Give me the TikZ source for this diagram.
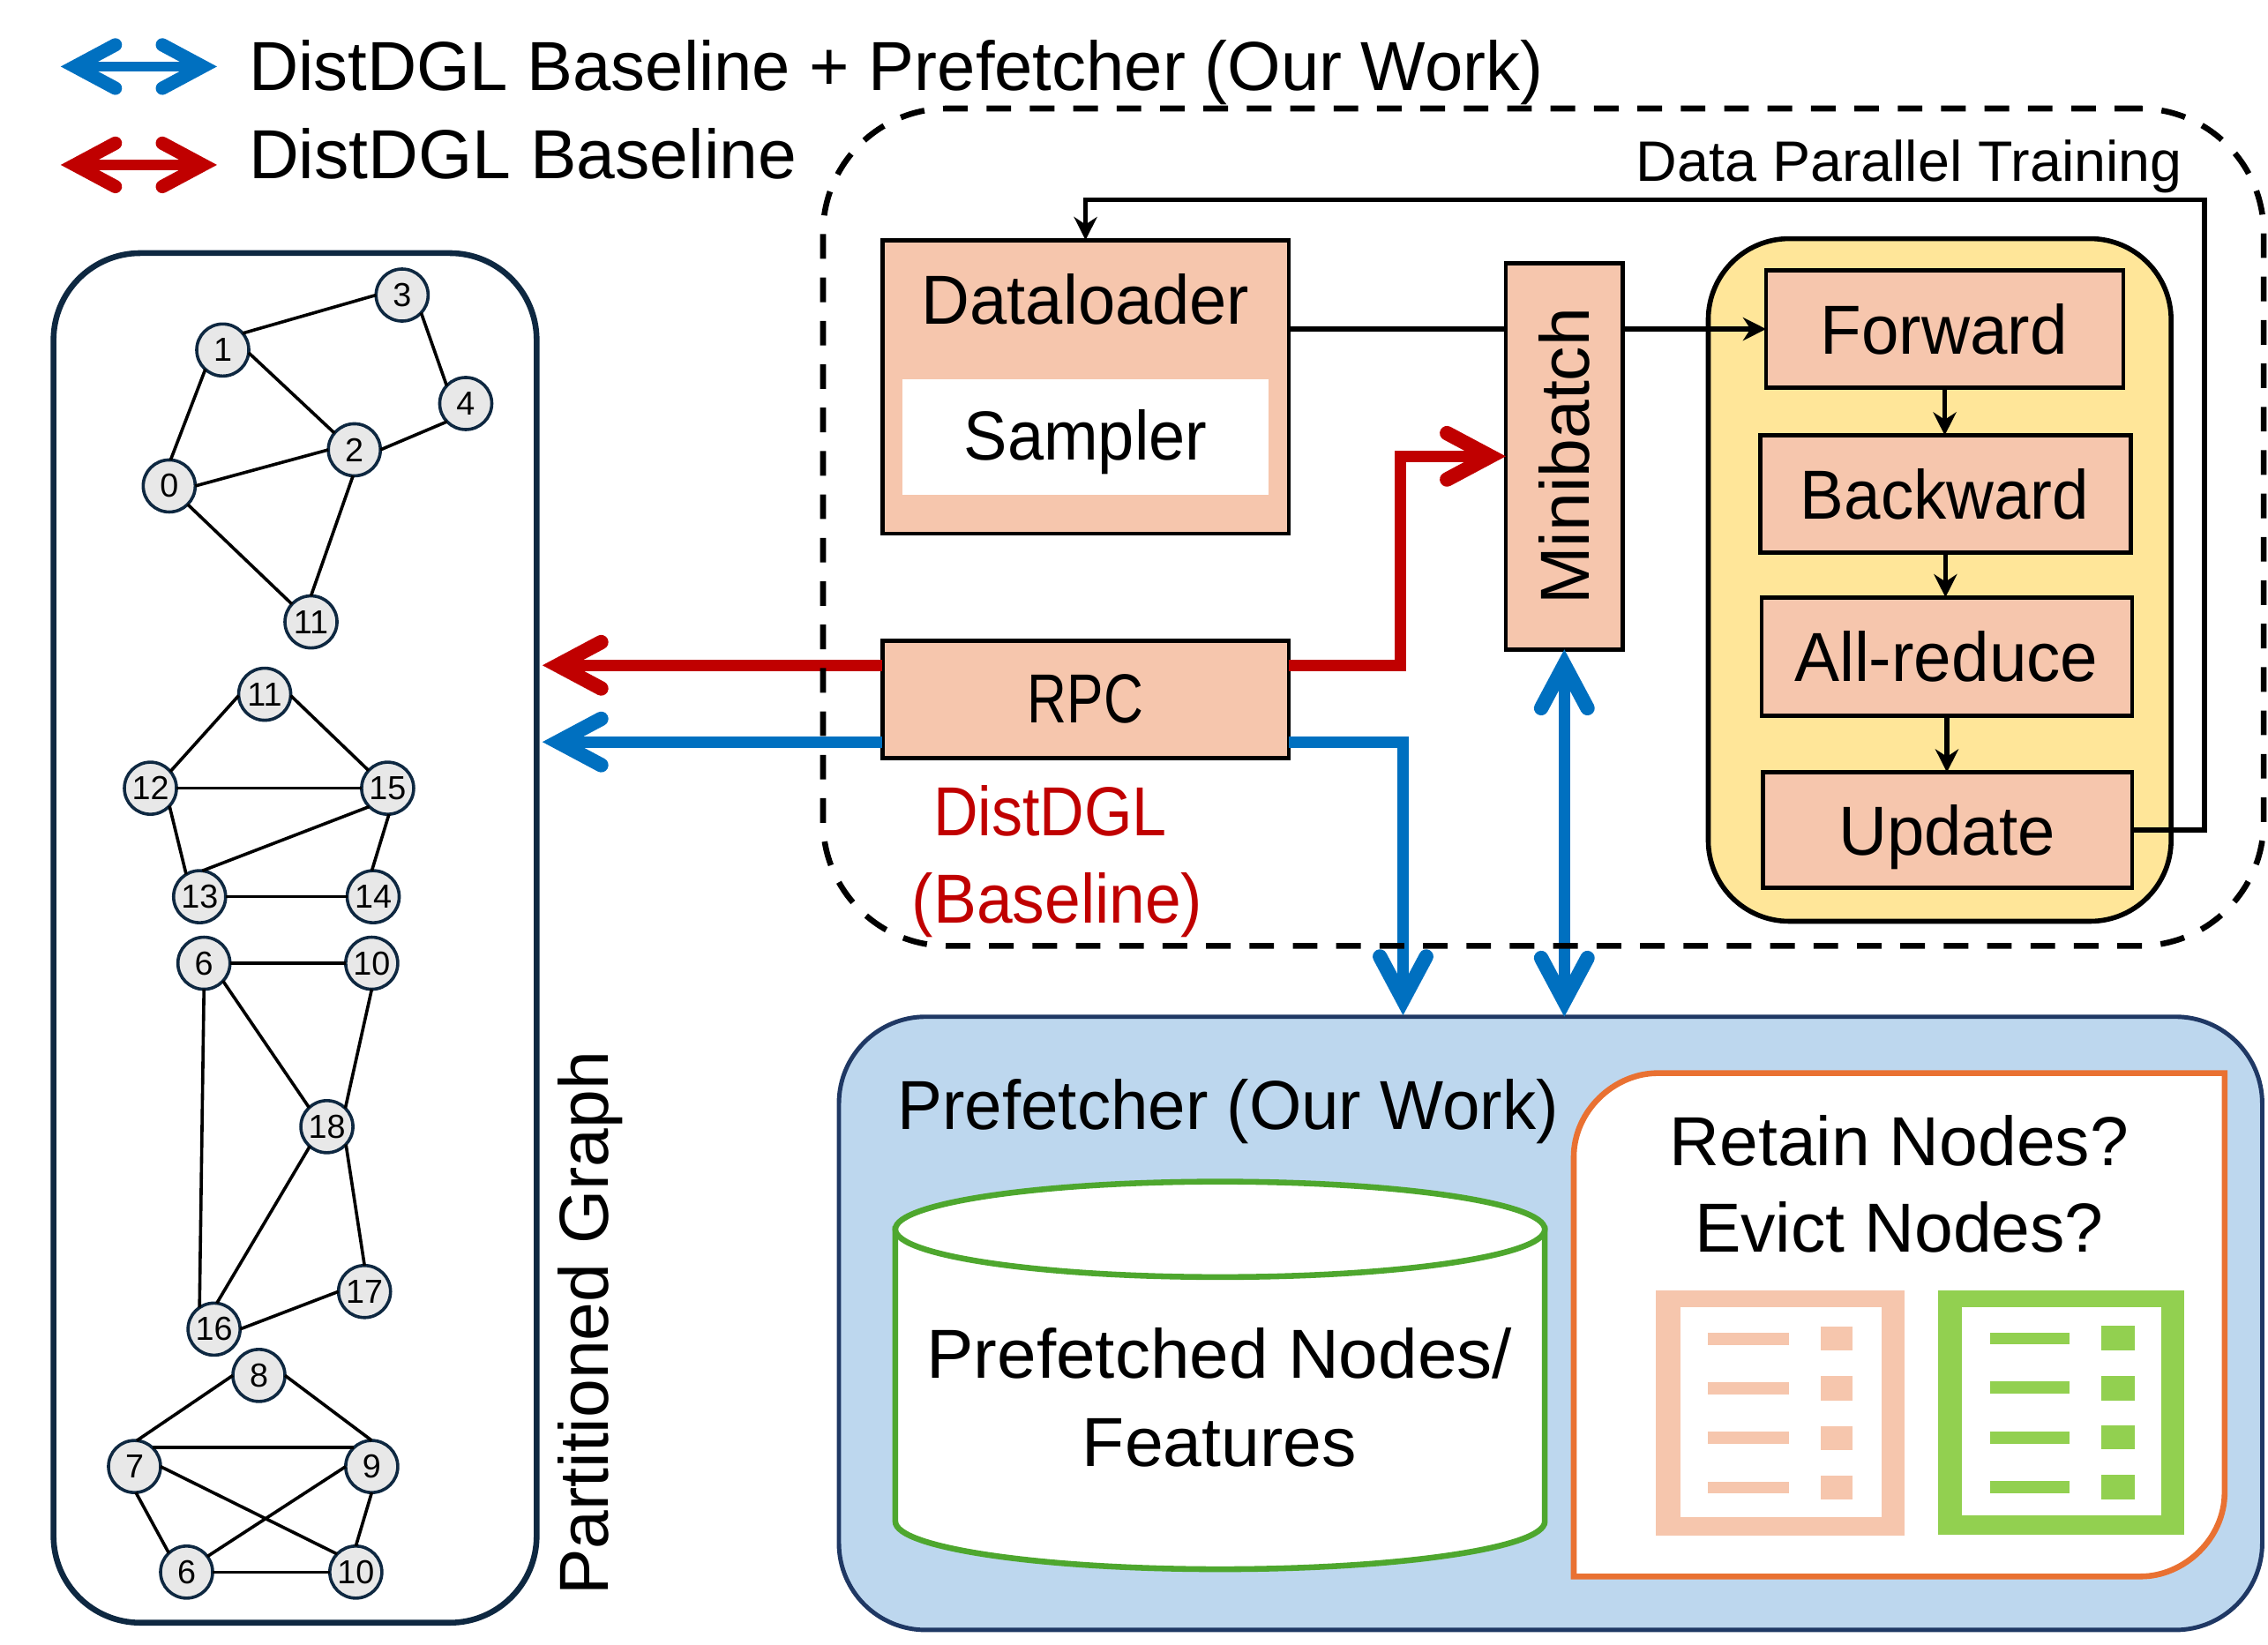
\documentclass[tikz,border=0pt]{standalone}
\usepackage{fontspec}
\usepackage{graphicx}
\setmainfont{Liberation Sans}
\usetikzlibrary{arrows.meta,calc}
\definecolor{peach}{HTML}{F6C6AD}
\definecolor{navy}{HTML}{0E2841}
\definecolor{navyb}{HTML}{1F3864}
\definecolor{bluea}{HTML}{0070C0}
\definecolor{reda}{HTML}{C00000}
\definecolor{prefbg}{HTML}{BDD7EE}
\definecolor{yellowbg}{HTML}{FFE699}
\definecolor{orangeb}{HTML}{E97132}
\definecolor{greenb}{HTML}{4EA72E}
\definecolor{greenl}{HTML}{92D050}
\definecolor{nodeg}{HTML}{E8E8E8}
\newcommand{\hs}[2]{\scalebox{#1}[1]{#2}}
\tikzset{
  gnode/.style={circle,draw=navy,fill=nodeg,line width=1.1pt,minimum size=18pt,inner sep=0pt,outer sep=0pt,font=\fontsize{11.5}{12}\selectfont},
  gedge/.style={line width=1.1pt,black},
  pbox/.style={draw=black,fill=peach,line width=1.4pt,inner sep=0pt,outer sep=0pt},
  txt/.style={inner sep=0pt,outer sep=0pt,font=\fontsize{24}{28}\selectfont,text=black,anchor=base},
  thick red/.style={draw=reda,line width=4pt},
  thick blue/.style={draw=bluea,line width=4pt},
  bigtip/.tip={Straight Barb[length=15pt,width=16pt,line width=5pt,line cap=round]},
  legtip/.tip={Straight Barb[length=14pt,width=15pt,line width=4.6pt,line cap=round]},
  thin arrow/.style={line width=1.7pt,black,-{Stealth[length=8pt,width=8pt]}},
  thin line/.style={line width=1.7pt,black},
}
\begin{document}
\begin{tikzpicture}[x=0.5pt,y=-0.5pt]
\useasboundingbox (0,0) rectangle (1568,1137.4);

% legend
\coordinate (la1) at (42,46); \coordinate (la2) at (150,46);
\coordinate (lb1) at (42,114); \coordinate (lb2) at (150,114);
\draw[bluea,line width=3.4pt,{legtip}-{legtip}] (la1) -- (la2);
\draw[reda,line width=3.4pt,{legtip}-{legtip}] (lb1) -- (lb2);
\node[txt,anchor=base west] (lega) at (172,62.5) {\hs{.989}{DistDGL Baseline + Prefetcher (Our Work)}};
\node[txt,anchor=base west] (legb) at (172,123.5) {DistDGL Baseline};

% partitioned graph
\node[draw=navy,line width=2pt,rounded corners=30pt,minimum width=167pt,minimum height=473.5pt,inner sep=0pt,outer sep=0pt] (part) at (204,648.5) {};
\node[txt,rotate=90,anchor=center] (parttxt) at (408,915) {Partitioned Graph};

\foreach \n/\x/\y/\t in {a3/278/204/3,a1/154/242/1,a4/322/279/4,a2/245/311/2,a0/117/336/0,a11/215/430/11,
  b11/183/480/11,b12/104/545/12,b15/268/545/15,b13/138/620/13,b14/258/620/14,
  c6/141/666/6,c10/257/666/10,c18/226/779/18,c17/252/893/17,c16/148/919/16,
  d8/179/951/8,d7/93/1014/7,d9/257/1014/9,d6/129/1087/6,d10/246/1087/10}
  \node[gnode] (\n) at (\x,\y) {\t};
\foreach \p/\u/\q/\v in {a1/40/a3/180,a3/-43/a4/137,a1/-6/a2/140,a4/224/a2/0,a0/0/a2/180,a0/87/a1/228,a0/-45/a11/137,a2/-93/a11/90,
  b11/183/b12/40,b11/-3/b15/137,b12/0/b15/180,b12/-43/b13/121,b13/84/b15/225,b15/-87/b14/93,b13/0/b14/180,
  c6/0/c10/180,c6/-43/c18/133,c10/-90/c18/45,c6/-90/c16/124,c18/229/c16/84,c18/-43/c17/90,c16/0/c17/180,
  d8/180/d7/85,d8/0/d9/90,d7/47/d9/133,d7/0/d10/136,d9/180/d6/37,d7/-87/d6/133,d9/-90/d10/90,d6/0/d10/180}
  \draw[gedge] (\p.\u) -- (\q.\v);

% training boxes
\node[pbox,minimum width=140.5pt,minimum height=101.5pt] (dl) at (750.5,267.5) {};
\node[txt] (dltxt) at (750.5,224) {\hs{.965}{Dataloader}};
\node[fill=white,minimum width=126.5pt,minimum height=40pt,inner sep=0pt,outer sep=0pt] (sampler) at (750.5,302) {};
\node[txt] (samplertxt) at (750.5,318) {\hs{.94}{Sampler}};
\node[pbox,minimum width=140.5pt,minimum height=40.5pt] (rpc) at (750.5,483.5) {};
\node[txt] (rpctxt) at (750.5,500) {\hs{.79}{RPC}};
\node[pbox,minimum width=40.5pt,minimum height=133.5pt] (mini) at (1081.5,315.5) {};
\node[txt,rotate=90,anchor=center] (minitxt) at (1081.5,315.5) {Minibatch};
\node[draw=black,fill=yellowbg,line width=1.7pt,rounded corners=28pt,minimum width=160pt,minimum height=236pt,inner sep=0pt,outer sep=0pt] (yel) at (1341,401) {};
\node[pbox,minimum width=123.5pt,minimum height=40.5pt] (fwd) at (1344.5,227.5) {};
\node[pbox,minimum width=128pt,minimum height=40.5pt] (back) at (1345,341.5) {};
\node[pbox,minimum width=128pt,minimum height=41pt] (allr) at (1346,454) {};
\node[pbox,minimum width=127.5pt,minimum height=40pt] (upd) at (1346.5,574) {};
\node[txt] (fwdtxt) at (1344,245) {\hs{.97}{Forward}};
\node[txt] (backtxt) at (1344.5,359) {\hs{.947}{Backward}};
\node[txt] (allrtxt) at (1345.5,471) {\hs{.972}{All-reduce}};
\node[txt] (updtxt) at (1346,591) {\hs{.967}{Update}};

\node[txt,text=reda] (dd1) at (726,578) {\hs{.89}{DistDGL}};
\node[txt,text=reda] (dd2) at (731,638) {\hs{.93}{(Baseline)}};

% prefetcher
\node[draw=navyb,fill=prefbg,line width=1.5pt,rounded corners=30pt,minimum width=492pt,minimum height=212pt,inner sep=0pt,outer sep=0pt] (pref) at (1072,915) {};
\node[txt] (preftxt) at (849,781) {\hs{.97}{Prefetcher (Our Work)}};

% cylinder
\draw[greenb,line width=2pt,fill=white] (619,850) -- (619,1052) arc[start angle=180,end angle=360,x radius=112.25pt,y radius=16.5pt] -- (1068,850) -- cycle;
\draw[greenb,line width=2pt,fill=white] (843.5,850) ellipse [x radius=112.25pt,y radius=16.5pt];
\node[txt] (pfa) at (843,953) {\hs{1.018}{Prefetched Nodes/}};
\node[txt] (pfb) at (843,1014) {Features};

% decision box
\draw[orangeb,line width=2pt,fill=white] (1088,1090) -- (1088,800) .. controls (1088,768) and (1116,742) .. (1146,742) -- (1538,742) -- (1538,1032) .. controls (1538,1064) and (1510,1090) .. (1480,1090) -- cycle;
\node[txt] (reta) at (1313,806) {Retain Nodes?};
\node[txt] (evic) at (1313,866) {Evict Nodes?};

% list icons
\fill[peach] (1145,892) rectangle (1317,1062);
\fill[white] (1162,904) rectangle (1301,1049);
\foreach \a/\b in {921.6/930,955.6/964,990/998.5,1024.5/1032.6} \fill[peach] (1181,\a) rectangle (1237,\b);
\foreach \a/\b in {917/934,951.6/968.6,986/1002.6,1020/1037} \fill[peach] (1258.6,\a) rectangle (1280.6,\b);
\fill[greenl] (1340,892) rectangle (1510,1061);
\fill[white] (1356.5,904) rectangle (1494,1048);
\foreach \a/\b in {921.3/929.7,955.3/963.7,989.7/998.2,1024.2/1032.3} \fill[greenl] (1375.8,\a) rectangle (1431,\b);
\foreach \a/\b in {916.7/933.7,951.3/968.3,985.7/1002.3,1019.7/1036.7} \fill[greenl] (1453,\a) rectangle (1476,\b);

% connectors
\coordinate (partr) at (375,460);
\coordinate (partb) at (375,513);
\coordinate (redbend) at (968,460);
\coordinate (bluebend) at (970,513);
\coordinate (bluedown) at (970,702);
\coordinate (ret1) at (1524,574);
\coordinate (ret2) at (1524,138);
\draw[thick red,-{bigtip}] (rpc.west |- partr) -- (partr);
\draw[thick blue,-{bigtip}] (rpc.west |- partb) -- (partb);
\draw[thick red,-{bigtip}] (rpc.east |- redbend) -- (redbend) |- (mini.west);
\draw[thick blue,-{bigtip}] (rpc.east |- bluebend) -- (bluebend) -- (bluedown);
\draw[thick blue,{bigtip}-{bigtip}] (mini.south) -- (mini.south |- pref.north);
\draw[thin line] (dl.east |- fwd.west) -- (mini.west |- fwd.west);
\draw[thin arrow] (mini.east |- fwd.west) -- (fwd.west);
\draw[thin arrow] (fwd.south) -- (fwd.south |- back.north);
\draw[thin arrow] (back.south) -- (back.south |- allr.north);
\draw[thin arrow] (allr.south) -- (allr.south |- upd.north);
\draw[thin arrow] (upd.east) -- (ret1) -- (ret2) -| (dl.north);

% data parallel region
\node[draw=black,dash pattern=on 8.5pt off 6.5pt,line width=2pt,rounded corners=43pt,minimum width=498pt,minimum height=289.5pt,inner sep=0pt,outer sep=0pt] (dpt) at (1067,364.5) {};
\node[inner sep=0pt,anchor=east,font=\fontsize{19.7}{24}\selectfont] (dpttxt) at (1509,115) {Data Parallel Training};
\end{tikzpicture}
\end{document}
